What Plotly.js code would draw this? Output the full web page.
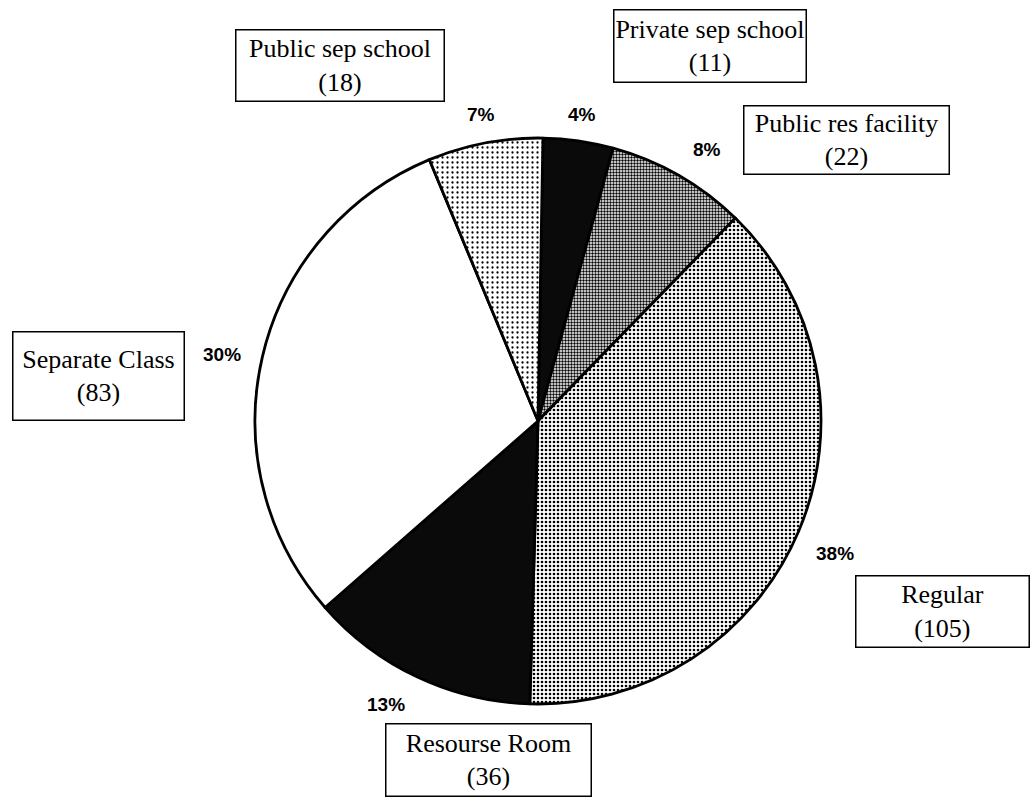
<!DOCTYPE html>
<html>
<head>
<meta charset="utf-8">
<script src="https://cdn.plot.ly/plotly-3.0.1.min.js"></script>
<style>html,body{margin:0;padding:0;background:#fff;}#chart{width:1033px;height:806px;}</style>
</head>
<body>
<div id="chart"></div>
<script>
// ---- data ----
const categories = ['Private sep school', 'Public res facility', 'Regular', 'Resourse Room', 'Separate Class', 'Public sep school'];
const counts = [11, 22, 105, 36, 83, 18];

// ---- styling (per slice) ----
const sliceColors = ['#0a0a0a', '#ffffff', '#ffffff', '#0a0a0a', '#ffffff', '#ffffff'];
const patternShapes = ['', '.', '.', '', '', '.'];
const patternFg = ['#ffffff', '#000000', '#000000', '#ffffff', '#000000', '#000000'];
const patternBg = ['#0a0a0a', '#ffffff', '#ffffff', '#0a0a0a', '#ffffff', '#ffffff'];
const patternSize = [9, 3, 4, 8, 4, 5];
const patternSolidity = [0.03, 0.5, 0.35, 0.04, 0.2, 0.16];

// ---- layout positions (pixels in the 1033x806 figure) ----
const W = 1033, H = 806;
const pieCenter = [538, 421], pieRadius = 283;
// label boxes: [left, top, width, height]
const boxes = [
  [613, 9, 194, 74],
  [743, 105, 207, 70],
  [855, 575, 175, 73],
  [385, 723, 207, 74],
  [12, 331, 173, 90],
  [235, 29, 210, 73]
];
// percent label centres
const pctPos = [
  [582, 115],
  [707, 150],
  [835, 553],
  [386, 704],
  [222, 354],
  [481, 115]
];

const total = counts.reduce((a, b) => a + b, 0);
const px = x => x / W;
const py = y => 1 - y / H;

const trace = {
  type: 'pie',
  labels: categories,
  values: counts,
  sort: false,
  direction: 'clockwise',
  rotation: 1,
  textinfo: 'none',
  hoverinfo: 'skip',
  showlegend: false,
  domain: {
    x: [px(pieCenter[0] - pieRadius), px(pieCenter[0] + pieRadius)],
    y: [py(pieCenter[1] + pieRadius), py(pieCenter[1] - pieRadius)]
  },
  marker: {
    colors: sliceColors,
    line: {color: '#000000', width: 2.8},
    pattern: {
      shape: patternShapes,
      fgcolor: patternFg,
      bgcolor: patternBg,
      size: patternSize,
      solidity: patternSolidity,
      fillmode: 'replace'
    }
  }
};

const annotations = [];
categories.forEach((name, i) => {
  const [l, t, w, h] = boxes[i];
  annotations.push({
    xref: 'paper', yref: 'paper',
    x: px(l), y: py(t), xanchor: 'left', yanchor: 'top',
    width: w - 3, height: h - 3,
    align: 'center', valign: 'middle',
    text: name + '<br>(' + counts[i] + ')',
    showarrow: false,
    bordercolor: '#000000', borderwidth: 1.5, borderpad: 0,
    bgcolor: '#ffffff',
    font: {family: '"Liberation Serif", "Times New Roman", serif', size: 26, color: '#000000'}
  });
  annotations.push({
    xref: 'paper', yref: 'paper',
    x: px(pctPos[i][0]), y: py(pctPos[i][1]), xanchor: 'center', yanchor: 'middle',
    text: '<b>' + Math.round(counts[i] / total * 100) + '%</b>',
    showarrow: false,
    font: {family: '"Liberation Sans", Arial, sans-serif', size: 19, color: '#000000'}
  });
});

const layout = {
  width: W, height: H,
  margin: {l: 0, r: 0, t: 0, b: 0},
  paper_bgcolor: '#ffffff',
  plot_bgcolor: '#ffffff',
  showlegend: false,
  annotations: annotations
};

Plotly.newPlot('chart', [trace], layout, {staticPlot: true, displayModeBar: false});
</script>
</body>
</html>
